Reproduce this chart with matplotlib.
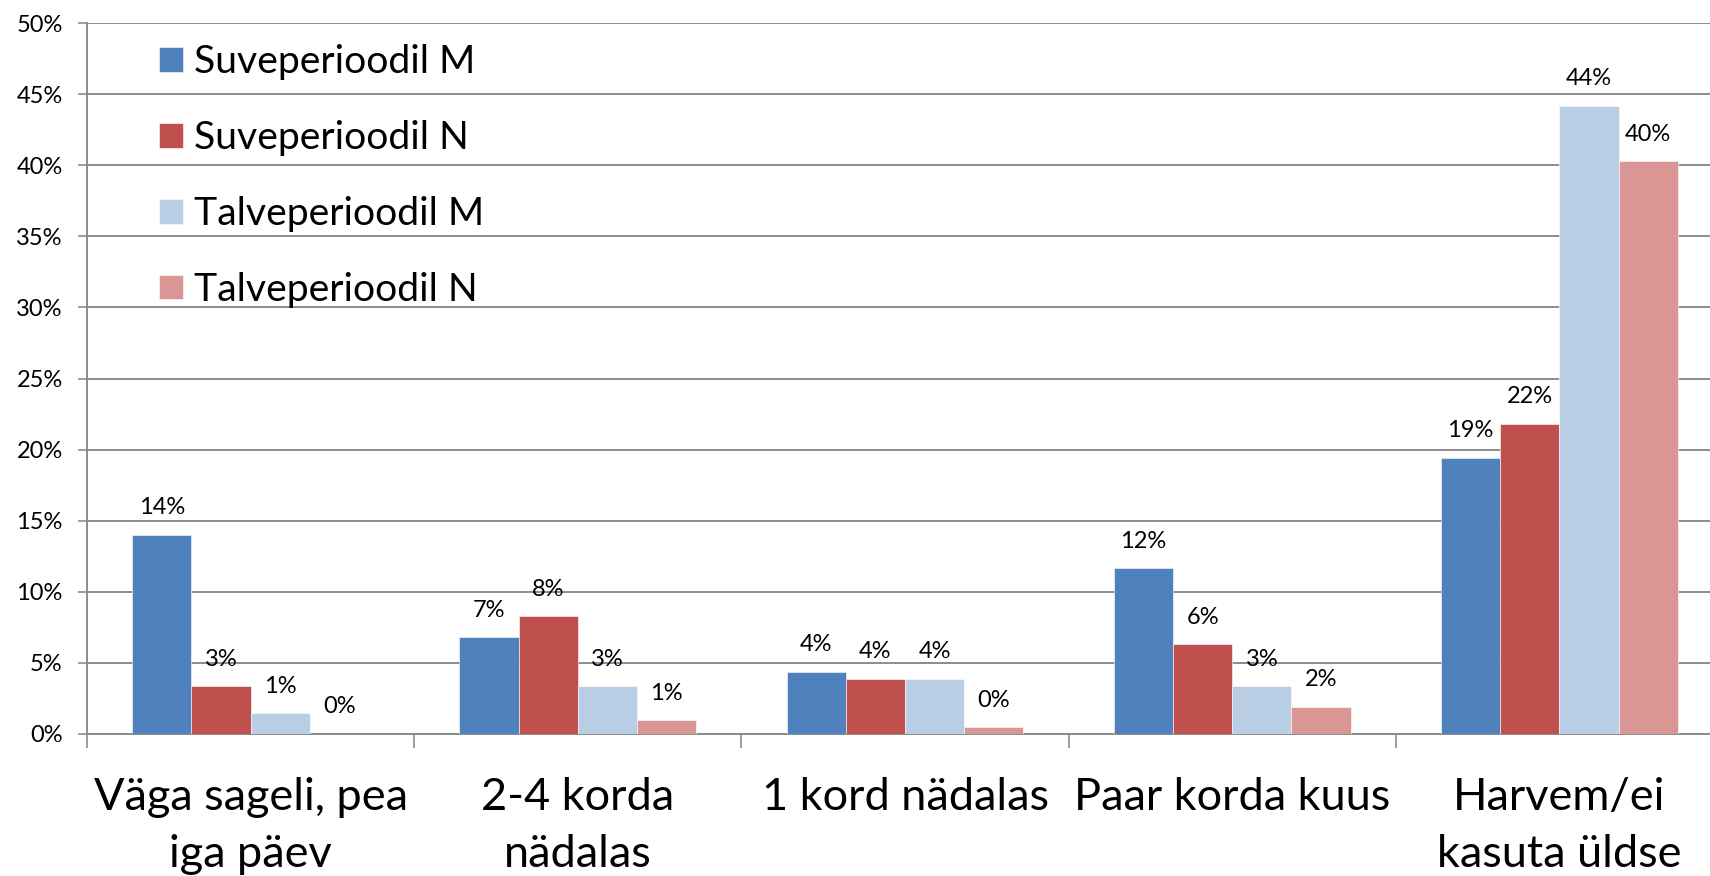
import matplotlib
matplotlib.use("Agg")
from matplotlib import pyplot as plt
import numpy as np

plt.rcParams['font.family'] = ['Lato', 'DejaVu Sans']

categories = ['Väga sageli, pea\niga päev', '2-4 korda\nnädalas', '1 kord nädalas',
              'Paar korda kuus', 'Harvem/ei\nkasuta üldse']
series = ['Suveperioodil M', 'Suveperioodil N', 'Talveperioodil M', 'Talveperioodil N']

# values in percent
suve_m = [14.0, 6.8, 4.35, 11.65, 19.4]
suve_n = [3.35, 8.25, 3.85, 6.3, 21.8]
talve_m = [1.45, 3.35, 3.85, 3.35, 44.2]
talve_n = [0.0, 0.95, 0.45, 1.9, 40.3]

colors = ['#4F81BD', '#C0504D', '#B9CDE5', '#D99694']
grid_col = '#8C8C8C'

fig = plt.figure(figsize=(17.1, 8.76), dpi=100)
ax = fig.add_axes([87 / 1710, 142.3 / 876, 5 * 327.2 / 1710, 710.4 / 876])

x = np.arange(len(categories))
w = 0.181
for i, (vals, name) in enumerate(zip([suve_m, suve_n, talve_m, talve_n], series)):
    pos = x + (i - 1.5) * w
    ax.bar(pos, vals, width=w, color=colors[i], label=name,
           edgecolor='white', linewidth=0.4, zorder=3)
    for xp, v in zip(pos, vals):
        ax.annotate('{}%'.format(int(round(v))), (xp, v), xytext=(0, 19.5),
                    textcoords='offset points', ha='center', va='center',
                    fontsize=17, color='black')

ax.set_xlim(-0.5, 4.5)
ax.set_ylim(0, 50)
ax.set_yticks(np.arange(0, 51, 5))
ax.set_yticklabels(['{}%'.format(t) for t in range(0, 51, 5)])
ax.yaxis.grid(True, color=grid_col, linewidth=1.4, zorder=0)
ax.set_axisbelow(True)

ax.set_xticks(x)
ax.set_xticklabels(categories, fontsize=32.5, linespacing=1.47)
ax.set_xticks(np.arange(-0.5, 5, 1), minor=True)
ax.tick_params(axis='x', which='major', length=0, pad=31.5)
ax.tick_params(axis='x', which='minor', length=10, width=1.2, color=grid_col, direction='out')
ax.tick_params(axis='y', length=6.5, width=1.2, color=grid_col, labelsize=17, pad=11)

for s in ['top', 'right']:
    ax.spines[s].set_visible(False)
for s in ['left', 'bottom']:
    ax.spines[s].set_color(grid_col)
    ax.spines[s].set_linewidth(1.4)

ax.legend(loc='upper left', bbox_to_anchor=(159 / 1710, 1 - 44 / 876),
          bbox_transform=fig.transFigure, frameon=False, fontsize=28.2,
          handlelength=0.6, handleheight=0.6, handletextpad=0.3,
          labelspacing=1.02, borderpad=0, borderaxespad=0)

fig.savefig('out.png', dpi=100)
